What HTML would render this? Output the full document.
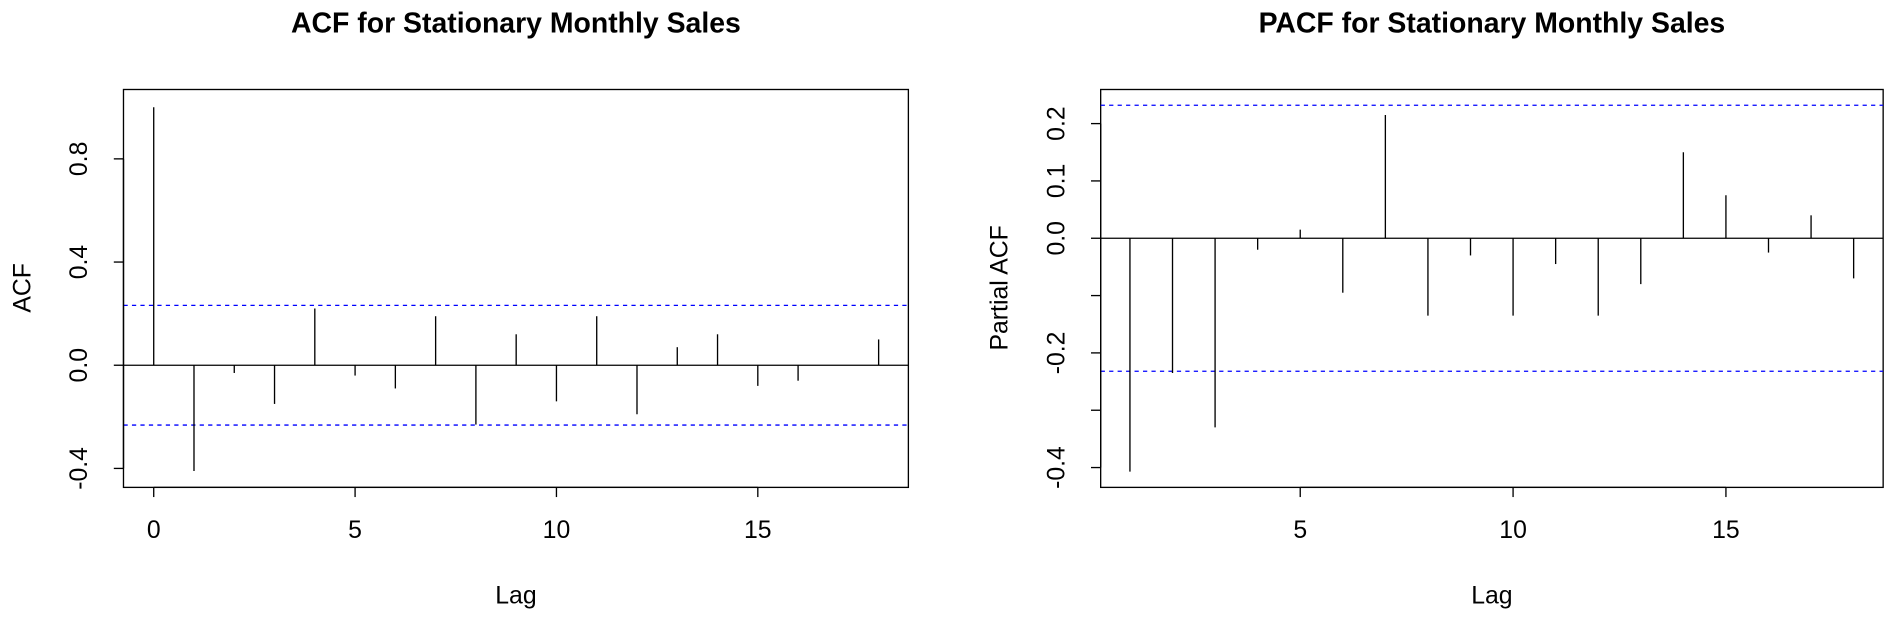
<!DOCTYPE html>
<html><head><meta charset="utf-8"><style>
html,body{margin:0;padding:0;background:#fff;}
svg{display:block;font-family:"Liberation Sans",Arial,sans-serif;}
</style></head><body>
<svg id="chart" width="1899" height="618" viewBox="0 0 1570 511"></svg>
<script>
const acfLags=[0,1,2,3,4,5,6,7,8,9,10,11,12,13,14,15,16,17,18];
const acfValues=[1.0,-0.41,-0.03,-0.15,0.22,-0.04,-0.09,0.19,-0.23,0.12,-0.14,0.19,-0.19,0.07,0.12,-0.08,-0.06,0.0,0.10];
const acfYTicks=[-0.4,0.0,0.4,0.8];
const acfXTicks=[0,5,10,15];
const pacfLags=[1,2,3,4,5,6,7,8,9,10,11,12,13,14,15,16,17,18];
const pacfValues=[-0.407,-0.235,-0.33,-0.02,0.015,-0.095,0.215,-0.135,-0.03,-0.135,-0.045,-0.135,-0.08,0.15,0.075,-0.025,0.04,-0.07];
const pacfYTicks=[-0.4,-0.3,-0.2,-0.1,0.0,0.1,0.2];
const pacfYLabels=["-0.4","","-0.2","","0.0","0.1","0.2"];
const pacfXTicks=[5,10,15];
const confLimit=0.232;

const svg=document.getElementById('chart');
const NS='http://www.w3.org/2000/svg';
function mk(tag,attrs,parent){const e=document.createElementNS(NS,tag);for(const k in attrs)e.setAttribute(k,attrs[k]);(parent||svg).appendChild(e);return e;}

function panel(o){
  const g=mk('g',{});
  
  
  const x=v=>o.x0+(v-o.xv0)*o.xs;
  const y=v=>o.y0-v*o.ys;
  const t=mk('text',{x:(o.bx1+o.bx2)/2,y:27,'text-anchor':'middle','font-size':23.5,'font-weight':'bold'},g);
  t.textContent=o.title;
  
  
  const box=mk('rect',{x:o.bx1,y:74,width:o.bx2-o.bx1,height:329,fill:'none',stroke:'#000','stroke-width':1.1},g);
  
  
  const zl=mk('line',{x1:o.bx1,x2:o.bx2,y1:y(0),y2:y(0),stroke:'#000','stroke-width':1.1},g);
  
  
  [confLimit,-confLimit].forEach((c,i)=>{
    const l=mk('line',{x1:o.bx1,x2:o.bx2,y1:y(c),y2:y(c),stroke:'#0000ff','stroke-width':1.1,'stroke-dasharray':'3.5,3.5'},g);
    
    
  });
  o.lags.forEach((lag,i)=>{
    const b=mk('line',{x1:x(lag),x2:x(lag),y1:y(0),y2:y(o.vals[i]),stroke:'#000','stroke-width':1.1},g);
    
    
  });
  const xa=mk('g',{},g);
  
  
  mk('line',{x1:x(o.xticks[0]),x2:x(o.xticks[o.xticks.length-1]),y1:403,y2:403,stroke:'#000','stroke-width':1.1},xa);
  o.xticks.forEach(v=>{
    mk('line',{x1:x(v),x2:x(v),y1:403,y2:411,stroke:'#000','stroke-width':1.1},xa);
    const tt=mk('text',{x:x(v),y:445,'text-anchor':'middle','font-size':20.5},xa);tt.textContent=v;
  });
  const xl=mk('text',{x:(o.bx1+o.bx2)/2,y:499,'text-anchor':'middle','font-size':20.5},g);
  xl.textContent='Lag';
  
  
  const ya=mk('g',{},g);
  
  
  mk('line',{x1:o.bx1,x2:o.bx1,y1:y(o.yticks[0]),y2:y(o.yticks[o.yticks.length-1]),stroke:'#000','stroke-width':1.1},ya);
  o.yticks.forEach((v,i)=>{
    mk('line',{x1:o.bx1-8,x2:o.bx1,y1:y(v),y2:y(v),stroke:'#000','stroke-width':1.1},ya);
    const lab=o.ylabels?o.ylabels[i]:v.toFixed(1);
    if(lab){
      const tt=mk('text',{x:o.bx1-30,y:y(v),'text-anchor':'middle','font-size':20.5,transform:`rotate(-90 ${o.bx1-30} ${y(v)})`},ya);
      tt.textContent=lab;
    }
  });
  const yl=mk('text',{x:o.bx1-77,y:238,'text-anchor':'middle','font-size':20.5,transform:`rotate(-90 ${o.bx1-77} 238)`},g);
  yl.textContent=o.ytitle;
  
  
}
panel({name:'acf-panel',title:'ACF for Stationary Monthly Sales',ytitle:'ACF',bx1:102,bx2:751,x0:127,xv0:0,xs:33.3,y0:302,ys:213.3,lags:acfLags,vals:acfValues,xticks:acfXTicks,yticks:acfYTicks});
panel({name:'pacf-panel',title:'PACF for Stationary Monthly Sales',ytitle:'Partial ACF',bx1:910,bx2:1557,x0:1075,xv0:5,xs:35.2,y0:197,ys:474,lags:pacfLags,vals:pacfValues,xticks:pacfXTicks,yticks:pacfYTicks,ylabels:pacfYLabels});
</script>
</body></html>
